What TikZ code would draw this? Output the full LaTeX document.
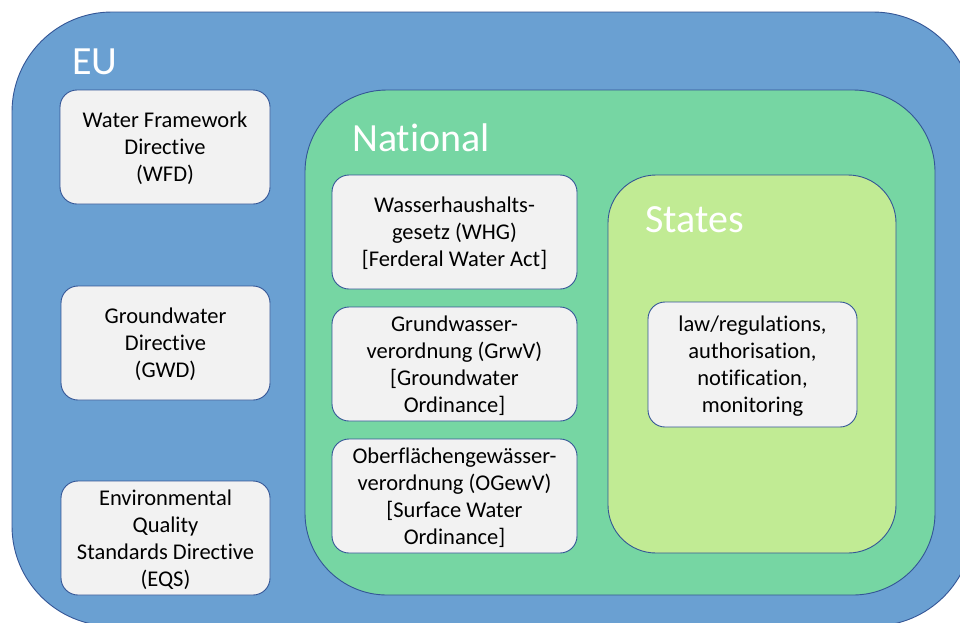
\documentclass[tikz,border=0pt]{standalone}
\usepackage{fontspec}
\setmainfont{Carlito}[Ligatures={NoCommon}]
\definecolor{eublue}{RGB}{106,160,210}
\definecolor{edgeblue}{RGB}{52,86,150}
\definecolor{natgreen}{RGB}{118,214,163}
\definecolor{stategreen}{RGB}{193,235,148}
\definecolor{boxgray}{RGB}{242,242,242}
\begin{document}
\begin{tikzpicture}[x=1pt,y=-1pt,
  container/.style={draw=edgeblue, line width=0.9pt},
  item/.style={draw=edgeblue, line width=0.9pt, fill=boxgray, rounded corners=17pt,
    align=center, inner sep=0pt, text depth=0pt, font=\fontsize{22.5}{27}\selectfont},
  title/.style={text=white, anchor=base west, inner sep=0pt,
    font=\fontsize{40}{48}\selectfont}]
\useasboundingbox (0,0) rectangle (960,622);
\fill[white] (0,0) rectangle (960,622);
\clip (0,0) rectangle (960,622);
% containers
\path[container, fill=eublue, rounded corners=100pt] (12,12) rectangle (973,626);
\path[container, fill=natgreen, rounded corners=82pt] (305,90) rectangle (935,595);
\path[container, fill=stategreen, rounded corners=48pt] (608,175) rectangle (896,553);
% titles
\node[title] (eut) at (72,74) {EU};
\node[title] (natt) at (352,151.5) {National};
\node[title] (statet) at (645,232) {States};
% EU items
\node[item, minimum width=210pt, minimum height=114pt] (wfd) at (165,147)
  {Water Framework\\Directive\\(WFD)};
\node[item, minimum width=209pt, minimum height=114pt] (gwd) at (165.5,343)
  {Groundwater\\Directive\\(GWD)};
\node[item, minimum width=209pt, minimum height=114pt] (eqs) at (165.5,538)
  {Environmental\\Quality\\Standards Directive\\(EQS)};
% National items
\node[item, minimum width=245pt, minimum height=114pt] (whg) at (454.5,232)
  {Wasserhaushalts-\\gesetz (WHG)\\{[}Ferderal Water Act{]}};
\node[item, minimum width=245pt, minimum height=114pt] (grwv) at (454.5,364)
  {Grundwasser-\\verordnung (GrwV)\\{[}Groundwater\\Ordinance{]}};
\node[item, minimum width=245pt, minimum height=114pt] (ogewv) at (454.5,496)
  {Oberflächengewässer-\\verordnung (OGewV)\\{[}Surface Water\\Ordinance{]}};
% States item
\node[item, minimum width=209pt, minimum height=125pt] (law) at (752.5,364.5)
  {law/regulations,\\authorisation,\\notification,\\monitoring};
\end{tikzpicture}
\end{document}
